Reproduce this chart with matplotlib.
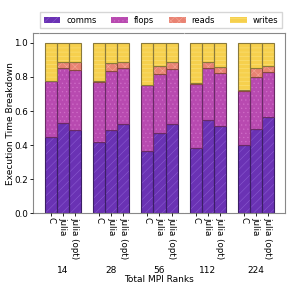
import matplotlib.pyplot as plt
import matplotlib.ticker as mticker
import numpy as np

plt.rcParams['hatch.linewidth'] = 0.4

ranks = ['14', '28', '56', '112', '224']
impls = ['C', 'julia', 'julia (opt)']
parts = ['comms', 'flops', 'reads', 'writes']

# fractions per rank group, order: C, julia, julia (opt)
comms = [[0.450, 0.530, 0.490],
         [0.421, 0.490, 0.523],
         [0.366, 0.474, 0.523],
         [0.382, 0.549, 0.513],
         [0.400, 0.495, 0.563]]
flops = [[0.324, 0.320, 0.350],
         [0.350, 0.345, 0.328],
         [0.385, 0.346, 0.326],
         [0.375, 0.302, 0.312],
         [0.318, 0.305, 0.268]]
reads = [[0.005, 0.035, 0.045],
         [0.005, 0.049, 0.039],
         [0.004, 0.045, 0.041],
         [0.005, 0.039, 0.036],
         [0.004, 0.055, 0.034]]
writes = [[0.221, 0.115, 0.115],
          [0.224, 0.116, 0.110],
          [0.245, 0.135, 0.110],
          [0.238, 0.110, 0.139],
          [0.278, 0.145, 0.135]]

colors = ['#6a32b4', '#b84ab0', '#e98373', '#f6d04d']
hatch_colors = ['#8a5ad0', '#d06ec8', '#f4a898', '#fae27e']
edge_colors = ['#3b1f66', '#6a2a66', '#8a4a40', '#8a7a3a']
hatches = ['////', '....', 'xxxx', '----']

fig = plt.figure(figsize=(2.91, 2.91), dpi=100)
ax = fig.add_axes([0.113, 0.267, 0.866, 0.618])

xpos = []
xlabels = []
for g in range(len(ranks)):
    for k in range(len(impls)):
        xpos.append(g * 4 + k - 1)
        xlabels.append(impls[k])
xpos = np.array(xpos)

data = [np.array(comms).ravel(), np.array(flops).ravel(),
        np.array(reads).ravel(), np.array(writes).ravel()]

bottom = np.zeros(len(xpos))
for i, vals in enumerate(data):
    ax.bar(xpos, vals, width=1.0, bottom=bottom, color=colors[i],
           edgecolor=hatch_colors[i], hatch=hatches[i], linewidth=0,
           label=parts[i])
    ax.bar(xpos, vals, width=1.0, bottom=bottom, fill=False,
           edgecolor=edge_colors[i], linewidth=0.8)
    bottom += vals

ax.set_xlim(-2.5, 18.4)
ax.set_ylim(0, 1.055)
ax.set_xticks(xpos)
ax.set_xticklabels(xlabels, rotation=270, fontsize=6.3)
ax.xaxis.set_minor_locator(mticker.MultipleLocator(3, offset=1))
ax.grid(which='minor', axis='x', color='white', linestyle=':', linewidth=0.8)
ax.set_axisbelow(False)
ax.tick_params(axis='x', which='major', length=2, width=0.6, pad=1)
ax.tick_params(axis='x', which='minor', length=0)
ax.tick_params(axis='y', labelsize=6.3, length=2, width=0.6, pad=1.5)
ax.set_yticks([0, 0.2, 0.4, 0.6, 0.8, 1.0])
for s in ax.spines.values():
    s.set_color('#888888')

for g, r in enumerate(ranks):
    ax.annotate(r, xy=(g * 4, -0.317), xycoords=('data', 'axes fraction'),
                ha='center', va='center', fontsize=6.5)
ax.set_xlabel('Total MPI Ranks', fontsize=6.5)
ax.xaxis.set_label_coords(0.5, -0.345)
ax.set_ylabel('Execution Time Breakdown', fontsize=6.5)
ax.yaxis.set_label_coords(-0.07, 0.5)

ax.legend(loc='lower center', bbox_to_anchor=(0.508, 1.005), ncol=4,
          fontsize=6, frameon=True, fancybox=False, edgecolor='#cccccc',
          handlelength=2.0, columnspacing=1.8, handletextpad=0.7,
          borderpad=0.45)

fig.savefig('out.png', dpi=100)
